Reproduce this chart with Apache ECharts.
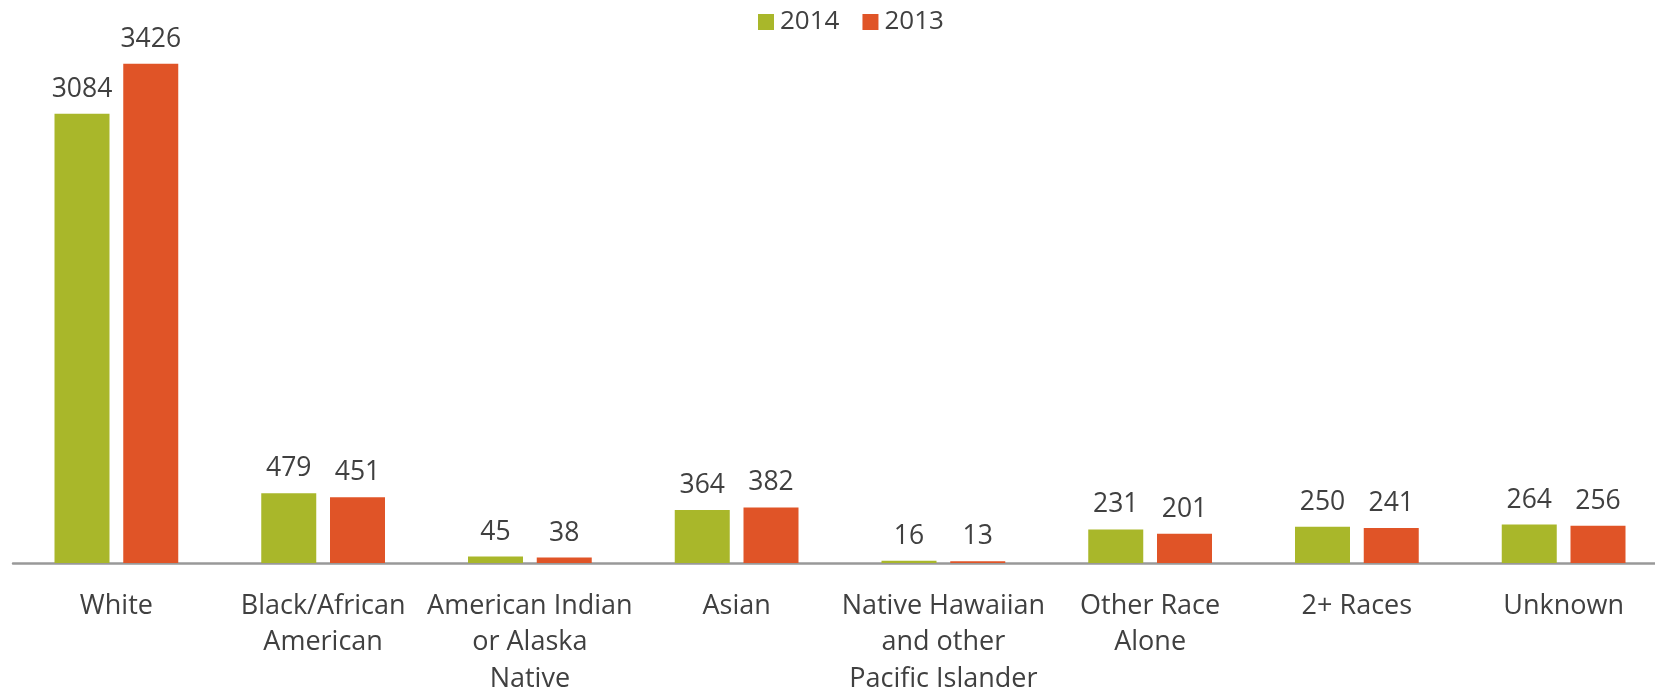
<!DOCTYPE html>
<html>
<head>
<meta charset="utf-8">
<script src="https://cdn.jsdelivr.net/npm/echarts@6/dist/echarts.min.js"></script>
<style>
html,body{margin:0;padding:0;background:#fff;overflow:hidden;width:1655px;height:697px;}
#chart{width:1668px;height:697px;}
</style>
</head>
<body>
<div id="chart"></div>
<script>
var categories = ["White", "Black/African\nAmerican", "American Indian\nor Alaska\nNative", "Asian", "Native Hawaiian\nand other\nPacific Islander", "Other Race\nAlone", "2+ Races", "Unknown"];
var seriesNames = ["2014", "2013"];
var values2014 = [3084, 479, 45, 364, 16, 231, 250, 264];
var values2013 = [3426, 451, 38, 382, 13, 201, 241, 256];
var colors = ["#A9B72A", "#E05427"];

var FONT = "Open Sans";
var chart = echarts.init(document.getElementById('chart'));
var labelStyle = {
  show: true,
  position: 'top',
  distance: 11,
  color: '#404040',
  fontFamily: FONT,
  fontSize: 26.5
};
chart.setOption({
  animation: false,
  textStyle: {fontFamily: FONT},
  legend: {
    data: seriesNames,
    left: 753,
    top: 4,
    itemWidth: 16,
    itemHeight: 16,
    itemGap: 23,
    icon: 'rect',
    textStyle: {color: '#404040', fontSize: 26, fontFamily: FONT, padding: [0, 0, 0, 1]}
  },
  grid: {left: 13, right: 1, top: 53, bottom: 127.7, containLabel: false},
  xAxis: {
    type: 'category',
    data: categories,
    axisTick: {show: false},
    axisLine: {lineStyle: {color: '#999999', width: 2.5}},
    axisLabel: {
      interval: 0,
      margin: 25,
      color: '#404040',
      fontFamily: FONT,
      fontSize: 27,
      lineHeight: 36.3
    }
  },
  yAxis: {
    type: 'value',
    min: 0,
    max: 3500,
    show: false,
    splitLine: {show: false}
  },
  series: [
    {name: seriesNames[0], type: 'bar', data: values2014, barWidth: 55, barGap: '25%',
     itemStyle: {color: colors[0]}, label: labelStyle},
    {name: seriesNames[1], type: 'bar', data: values2013, barWidth: 55, barGap: '25%',
     itemStyle: {color: colors[1]}, label: labelStyle}
  ]
});
</script>
</body>
</html>
